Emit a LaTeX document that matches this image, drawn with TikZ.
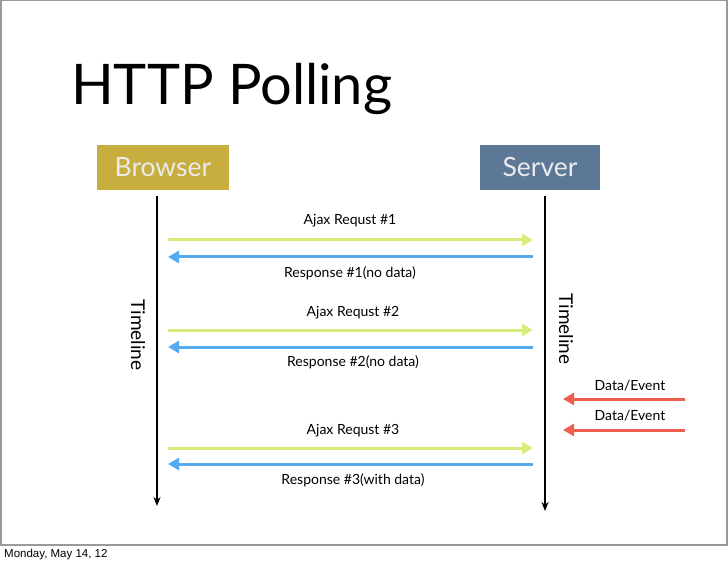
\documentclass[tikz,border=0pt]{standalone}
\usepackage{fontspec}
\setmainfont{Lato}
\newfontfamily\footfont{Liberation Sans}
\usetikzlibrary{arrows.meta}
\definecolor{browsergold}{HTML}{C8AD3F}
\definecolor{serverblue}{HTML}{5C7896}
\definecolor{reqgreen}{HTML}{D6EE7C}
\definecolor{respblue}{HTML}{55AAF0}
\definecolor{eventred}{HTML}{EE5E4E}
\definecolor{framegray}{HTML}{9A9A9A}
\begin{document}
\begin{tikzpicture}[x=1pt,y=-1pt,
  actor/.style={minimum width=#1, minimum height=45pt, inner sep=0pt,
    text=white!92!black, font=\fontsize{26.5}{26.5}\selectfont},
  lifeline/.style={line width=1.6pt, -{Stealth[length=9pt,width=7pt]}},
  msg/.style={line width=3pt, -{Triangle[length=11pt,width=12pt]}},
  lbl/.style={font=\fontsize{14}{14}\selectfont, inner sep=0pt},
  tl/.style={font=\fontsize{19}{19}\selectfont, inner sep=0pt, rotate=-90}]
\useasboundingbox (0,0) rectangle (728,561);
% slide frame
\draw[framegray, line width=1.5pt] (0.75,0.75) rectangle (727,545);
\node[anchor=base west, inner sep=0pt, font=\footfont\fontsize{11.5}{11.5}\selectfont] (date) at (4,557) {Monday, May 14, 12};
% title
\node[anchor=base west, inner sep=0pt, font=\fontsize{56}{56}\selectfont] (title) at (71,105) {HTTP Polling};
% participants
\node[actor=132pt, fill=browsergold] (browser) at (163,167.5) {Browser};
\node[actor=120pt, fill=serverblue] (server) at (540,167.5) {Server};
% lifelines
\coordinate (b0) at (157,196); \coordinate (b1) at (157,506);
\coordinate (s0) at (545,196); \coordinate (s1) at (545,511);
\draw[lifeline] (b0) -- (b1);
\draw[lifeline] (s0) -- (s1);
\node[tl] (btl) at (138,335) {Timeline};
\node[tl] (stl) at (566,329) {Timeline};
% message end points
\foreach \n/\y in {1/240, 2/330, 3/448} {
  \coordinate (rqa\n) at (168,\y); \coordinate (rqb\n) at (533,\y);
}
\foreach \n/\y in {1/257, 2/347, 3/464} {
  \coordinate (rsa\n) at (533,\y); \coordinate (rsb\n) at (168,\y);
}
% requests and responses
\draw[msg, reqgreen] (rqa1) -- (rqb1);
\draw[msg, respblue] (rsa1) -- (rsb1);
\draw[msg, reqgreen] (rqa2) -- (rqb2);
\draw[msg, respblue] (rsa2) -- (rsb2);
\draw[msg, reqgreen] (rqa3) -- (rqb3);
\draw[msg, respblue] (rsa3) -- (rsb3);
\node[lbl] (l1) at (350,221) {Ajax Requst \#1};
\node[lbl] (l2) at (350,273) {Response \#1(no data)};
\node[lbl] (l3) at (353,313) {Ajax Requst \#2};
\node[lbl] (l4) at (353,362) {Response \#2(no data)};
\node[lbl] (l5) at (353,431) {Ajax Requst \#3};
\node[lbl] (l6) at (353,480) {Response \#3(with data)};
% server-side events
\coordinate (ea1) at (685,399); \coordinate (eb1) at (563,399);
\coordinate (ea2) at (685,430); \coordinate (eb2) at (563,430);
\draw[msg, eventred] (ea1) -- (eb1);
\draw[msg, eventred] (ea2) -- (eb2);
\node[lbl] (e1) at (630,386) {Data/Event};
\node[lbl] (e2) at (630,416) {Data/Event};
\end{tikzpicture}
\end{document}
